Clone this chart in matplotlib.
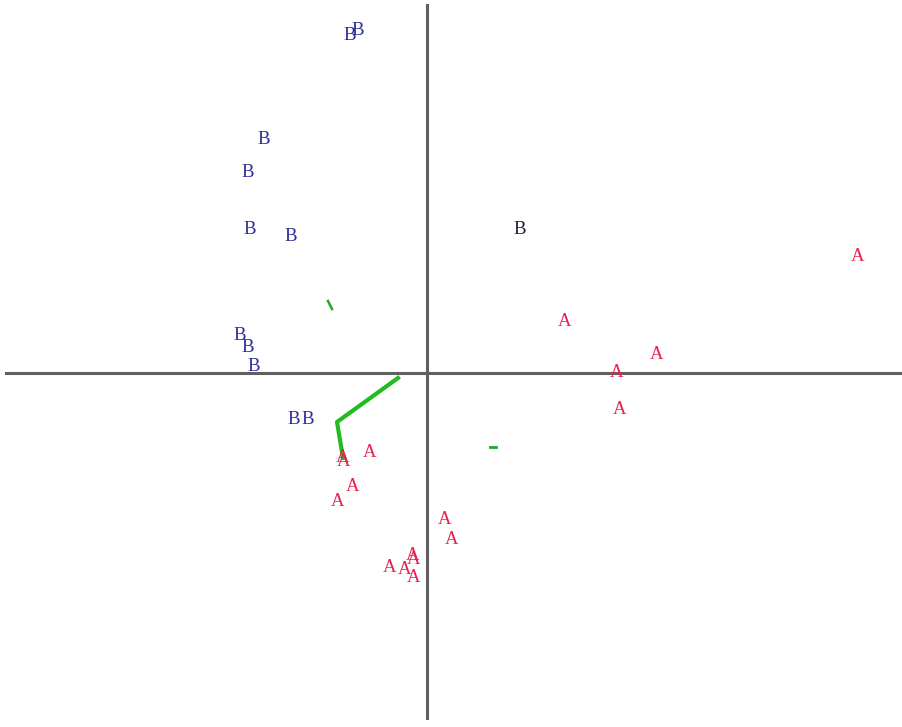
import matplotlib
matplotlib.use("Agg")
import matplotlib.pyplot as plt

# group A scores
a_x = [4.31, 1.38, 2.30, 1.90, 1.93, -0.57, -0.84, -0.83, -0.74, -0.89,
       0.18, 0.25, -0.14, -0.13, -0.37, -0.22, -0.13]
a_y = [1.16, 0.51, 0.18, 0.00, -0.37, -0.80, -0.85, -0.89, -1.14, -1.28,
       -1.47, -1.66, -1.83, -1.86, -1.95, -1.97, -2.04]

# group B scores
b_x = [-0.77, -0.69, -1.63, -1.79, -1.77, -1.36, -1.87, -1.79, -1.73, -1.33, -1.19]
b_y = [3.37, 3.42, 2.33, 2.00, 1.43, 1.36, 0.37, 0.25, 0.06, -0.47, -0.47]

# the odd B in the upper right
b_extra_x = [0.93]
b_extra_y = [1.43]

# green path and small marks
path_x = [-0.29, -0.90, -0.84]
path_y = [-0.05, -0.49, -0.85]
tick1_x = [-0.99, -0.95]
tick1_y = [0.72, 0.64]
tick2_x = [0.63, 0.69]
tick2_y = [-0.74, -0.74]

fig = plt.figure(figsize=(9.02, 7.27), dpi=100)
ax = fig.add_axes([0, 0, 1, 1])
ax.set_xlim(-4.27, 4.75)
ax.set_ylim(-3.54, 3.73)
ax.axis("off")

# axes cross
ax.plot([-4.21, 4.75], [0, 0], color="#606060", linewidth=2.2, zorder=1)
ax.plot([0, 0], [3.68, -3.45], color="#606060", linewidth=2.2, zorder=1)

ax.plot(path_x, path_y, color="#22bb22", linewidth=3.0, zorder=2)
ax.plot(tick1_x, tick1_y, color="#22aa22", linewidth=1.8, zorder=2)
ax.plot(tick2_x, tick2_y, color="#22aa22", linewidth=2.0, zorder=2)

font = dict(family="Liberation Serif", fontsize=13.5, ha="center", va="center", zorder=3)
for x, y in zip(a_x, a_y):
    ax.text(x, y, "A", color="#e8204e", **font)
for x, y in zip(b_x, b_y):
    ax.text(x, y, "B", color="#2b2b9c", **font)
for x, y in zip(b_extra_x, b_extra_y):
    ax.text(x, y, "B", color="#1c1c3c", **font)

fig.savefig("out.png", dpi=100)
